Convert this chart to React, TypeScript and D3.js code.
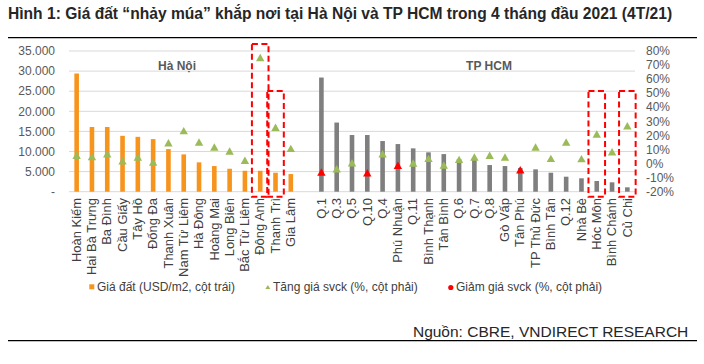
import React from "react";
import * as d3 from "d3";

const hanoiNames = ["Hoàn Kiếm", "Hai Bà Trưng", "Ba Đình", "Cầu Giấy", "Tây Hồ", "Đống Đa", "Thanh Xuân", "Nam Từ Liêm", "Hà Đông", "Hoàng Mai", "Long Biên", "Bắc Từ Liêm", "Đông Anh", "Thanh Trì", "Gia Lâm"];
const hanoiPrice = [29400, 16100, 16100, 13900, 13650, 13080, 10600, 9280, 7300, 6380, 5710, 5210, 5210, 4720, 4390];
const hanoiChange = [5.9, 4.9, 7.0, 2.0, 4.7, 1.1, 14.8, 23.4, 15.3, 11.8, 8.9, 2.3, 75.4, 25.8, 10.8];
const hanoiDown = [false, false, false, false, false, false, false, false, false, false, false, false, false, false, false];

const hcmNames = ["Q.1", "Q.3", "Q.5", "Q.10", "Q.4", "Phú Nhuận", "Q.11", "Bình Thạnh", "Tân Bình", "Q.6", "Q.7", "Q.8", "Gò Vấp", "Tân Phú", "TP Thủ Đức", "Bình Tân", "Q.12", "Nhà Bè", "Hóc Môn", "Bình Chánh", "Củ Chi"];
const hcmPrice = [28400, 17200, 14100, 14100, 12600, 11850, 10780, 9790, 9360, 8100, 8000, 6630, 6380, 5900, 5560, 4720, 3730, 3330, 2660, 2330, 1090];
const hcmChange = [-6.0, -3.7, 0.6, -6.5, 7.0, -1.2, 0.4, 3.7, -1.0, 3.0, 4.7, 5.9, 4.7, -4.4, 11.8, 3.7, 15.3, 3.5, 21.0, 8.4, 26.9];
const hcmDown = [true, false, false, true, false, true, false, false, false, false, false, false, false, true, false, false, false, false, false, false, false];

const leftTicks = [0, 5000, 10000, 15000, 20000, 25000, 30000, 35000];
const leftTickLabels = ["-", "5.000", "10.000", "15.000", "20.000", "25.000", "30.000", "35.000"];
const rightTicks = [-20, -10, 0, 10, 20, 30, 40, 50, 60, 70, 80];

const highlights = [
  { name: "Đông Anh", top: 85 },
  { name: "Thanh Trì", top: 51.5 },
  { name: "Hóc Môn", top: 51.5 },
  { name: "Củ Chi", top: 51.5 },
];

const titleText = "Hình 1: Giá đất “nhảy múa” khắp nơi tại Hà Nội và TP HCM trong 4 tháng đầu 2021 (4T/21)";
const sourceText = "Nguồn: CBRE, VNDIRECT RESEARCH";
const legendItems = ["Giá đất (USD/m2, cột trái)", "Tăng giá svck (%, cột phải)", "Giảm giá svck (%, cột phải)"];

const FONT = "'Liberation Sans', Arial, sans-serif";
const ORANGE = "#F7941E";
const GRAY = "#7F7F7F";
const GREEN = "#9BBB59";
const RED = "#FF0000";

function tri(cx: number, cy: number, w: number, h: number) {
  return `M${cx},${cy - h / 2}L${cx + w / 2},${cy + h / 2}L${cx - w / 2},${cy + h / 2}Z`;
}

export default function App() {
  const W = 704, H = 364;
  const GAP = "__gap__";
  const domain = [...hanoiNames, GAP, ...hcmNames];
  const x = d3.scaleBand<string>().domain(domain).range([69, 635]).padding(0);
  const bw = x.bandwidth();
  const yL = d3.scaleLinear().domain([0, 35000]).range([191.7, 51]);
  const yR = d3.scaleLinear().domain([-20, 80]).range([191.7, 51]);
  const cx = (n: string) => (x(n) as number) + bw / 2;

  const rows = [
    ...hanoiNames.map((n, i) => ({ name: n, price: hanoiPrice[i], change: hanoiChange[i], down: hanoiDown[i], color: ORANGE })),
    ...hcmNames.map((n, i) => ({ name: n, price: hcmPrice[i], change: hcmChange[i], down: hcmDown[i], color: GRAY })),
  ];
  const barW = 4.6;

  return (
    <svg width={W} height={H} style={{ position: "absolute", left: 0, top: 0, background: "#fff" }} fontFamily={FONT}>
      <rect x={0} y={0} width={W} height={H} fill="#fff" />
      <text x={8} y={19.3} fontSize={15.6} fontWeight="bold" fill="#262626">{titleText}</text>
      <line x1={8} x2={697} y1={37.7} y2={37.7} stroke="#000" strokeWidth={1.3} />

      {leftTicks.map((t, i) => (
        <g key={"gl" + i}>
          <line x1={69} x2={635} y1={yL(t)} y2={yL(t)} stroke="#D9D9D9" strokeWidth={1} />
          <text x={55} y={yL(t)} dy="0.35em" textAnchor="end" fontSize={12} fill="#595959">{leftTickLabels[i]}</text>
        </g>
      ))}
      {rightTicks.map((t, i) => (
        <text key={"rt" + i} x={646} y={yR(t)} dy="0.35em" textAnchor="start" fontSize={12} fill="#595959">{t + "%"}</text>
      ))}

      <text x={177} y={69.5} textAnchor="middle" fontSize={12} fontWeight="bold" fill="#595959">Hà Nội</text>
      <text x={489} y={69.5} textAnchor="middle" fontSize={12} fontWeight="bold" fill="#595959">TP HCM</text>

      {rows.map((r) => (
        <rect key={"b" + r.name} x={cx(r.name) - barW / 2} y={yL(r.price)} width={barW} height={yL(0) - yL(r.price)} fill={r.color} />
      ))}
      {rows.map((r) => (
        <path key={"t" + r.name} d={tri(cx(r.name), yR(r.change), 8.4, 7.4)} fill={r.down ? RED : GREEN} />
      ))}

      {rows.map((r) => (
        <text key={"l" + r.name} transform={`translate(${cx(r.name)},198) scale(1,1.08) rotate(-90)`} textAnchor="end" dy="0.35em" fontSize={12} fill="#404040">{r.name}</text>
      ))}

      {highlights.map((h) => (
        <rect key={"h" + h.name} x={cx(h.name) - 8.3} y={yR(h.top)} width={16.6} height={yR(-20) + 5 - yR(h.top)} fill="none" stroke={RED} strokeWidth={2} strokeDasharray="6,3.5" />
      ))}

      <rect x={89.3} y={284.3} width={5} height={5} fill={ORANGE} />
      <text x={97} y={290.5} fontSize={12} fill="#404040">{legendItems[0]}</text>
      <path d={tri(267.8, 287, 5, 4)} fill={GREEN} />
      <text x={273} y={290.5} fontSize={12} fill="#404040">{legendItems[1]}</text>
      <circle cx={450.8} cy={287.5} r={2.6} fill={RED} />
      <text x={456} y={290.5} fontSize={12} fill="#404040">{legendItems[2]}</text>

      <text x={688.3} y={336.7} textAnchor="end" fontSize={15.5} fill="#262626">{sourceText}</text>
      <line x1={8} x2={697} y1={340.7} y2={340.7} stroke="#000" strokeWidth={1.3} />
    </svg>
  );
}
